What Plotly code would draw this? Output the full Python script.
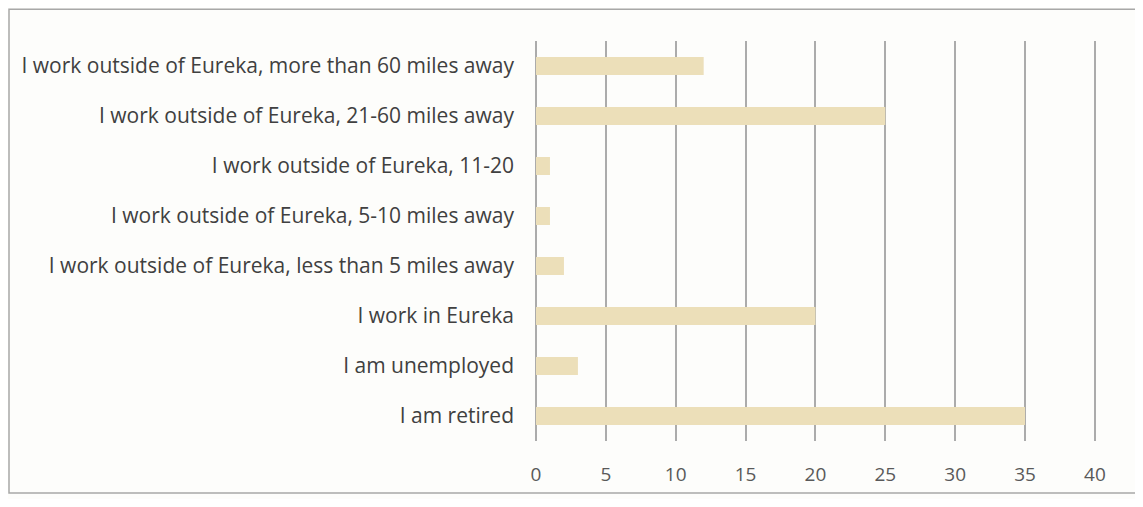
import plotly.graph_objects as go

categories = [
    "I work outside of Eureka, more than 60 miles away",
    "I work outside of Eureka, 21-60 miles away",
    "I work outside of Eureka, 11-20",
    "I work outside of Eureka, 5-10 miles away",
    "I work outside of Eureka, less than 5 miles away",
    "I work in Eureka",
    "I am unemployed",
    "I am retired",
]
values = [12, 25, 1, 1, 2, 20, 3, 35]
tick_vals = [0, 5, 10, 15, 20, 25, 30, 35, 40]

# page offset of the figure (browser body margin)
OFF = 8
FIG_W, FIG_H = 1143 - OFF, 507 - 2 * OFF
PL, PR, PT, PB = 536, 1097, 41, 445  # plot area in page pixels
PW, PH = PR - PL, PB - PT

fig = go.Figure(go.Bar(
    y=categories, x=values, orientation="h",
    marker=dict(color="#ecdfb9", line=dict(width=0)),
    width=0.36,
))

fig.update_layout(
    width=FIG_W, height=FIG_H,
    margin=dict(l=PL - OFF, r=FIG_W - (PR - OFF), t=PT - OFF,
                b=FIG_H - (PB - OFF), pad=0),
    paper_bgcolor="#fdfdfb", plot_bgcolor="#fdfdfb",
    font=dict(family="Open Sans, Liberation Sans, sans-serif", size=21, color="#404040"),
    showlegend=False,
    shapes=[dict(type="rect", xref="paper", yref="paper",
                 x0=(9 - PL) / PW, x1=(1140 - PL) / PW,
                 y0=(PB - 497.5) / PH, y1=(PB - 9) / PH,
                 line=dict(color="#a8a8a8", width=1.5), layer="below")],
)
fig.update_xaxes(range=[0, 40.15], tickvals=tick_vals, showgrid=True, gridcolor="#ababab",
                 gridwidth=1.5, zeroline=True, zerolinecolor="#ababab", zerolinewidth=1.5,
                 showline=False, ticks="",
                 tickfont=dict(size=19, color="#595959"), ticklabelstandoff=20)
fig.update_yaxes(categoryorder="array", categoryarray=categories[::-1], showgrid=False,
                 ticks="", ticklabelstandoff=21, tickfont=dict(size=21, color="#404040"),
                 showline=False, zeroline=False)

fig.write_html("out.html")
